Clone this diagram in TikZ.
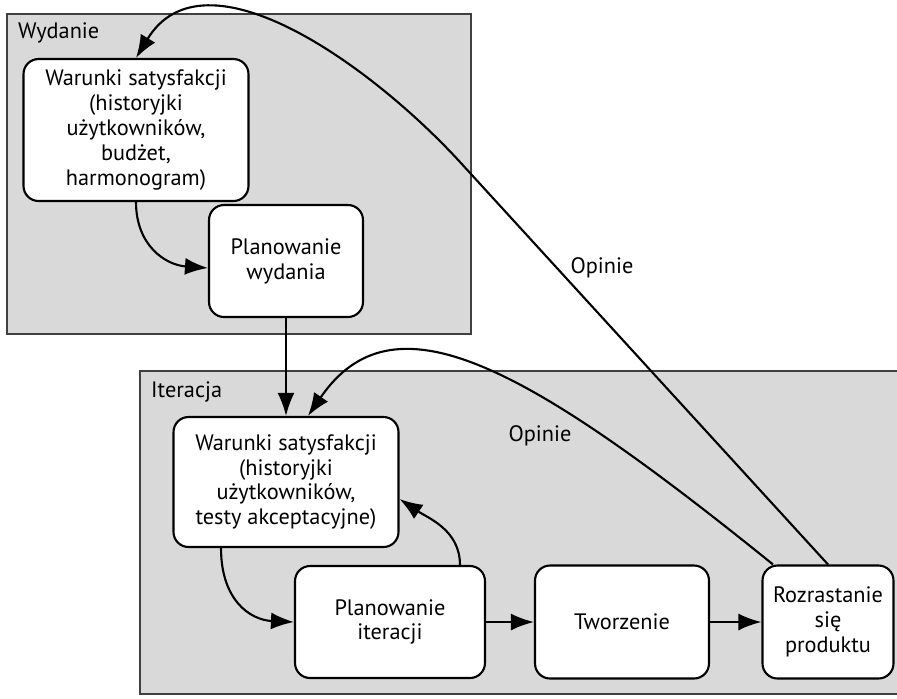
\documentclass[tikz,border=0pt]{standalone}
\usepackage{fontspec}
\setmainfont{PT Sans}
\usetikzlibrary{arrows.meta}

\begin{document}
\begin{tikzpicture}[x=0.02cm,y=-0.02cm,>={Latex[length=4.6mm,width=3.4mm]},
  frame/.style={draw=black!75,line width=0.8pt,fill=black!15},
  box/.style={draw,line width=1.2pt,fill=white,rounded corners=0.3cm,align=center,inner sep=0pt},
  flow/.style={->,line width=1.2pt},
  every node/.append style={font=\fontsize{12.7}{14.1}\selectfont}]
\useasboundingbox (0,0) rectangle (897,698);
\clip (0,0) rectangle (897,698);
% the two frames
\draw[frame] (7,14) rectangle (471,334);
\draw[frame] (140,371) rectangle (920,694);
\node[anchor=west] (wyd) at (12,33) {Wydanie};
\node[anchor=west] (ite) at (145,392) {Iteracja};
% boxes
\node[box,minimum width=4.5cm,minimum height=2.84cm]  (wars) at (136,130)
  {Warunki satysfakcji\\(historyjki\\użytkowników,\\budżet,\\harmonogram)};
\node[box,minimum width=3.08cm,minimum height=2.24cm] (plw)  at (286,261) {Planowanie\\wydania};
\node[box,minimum width=4.5cm,minimum height=2.6cm]   (wari) at (286,482)
  {Warunki satysfakcji\\(historyjki\\użytkowników,\\testy akceptacyjne)};
\node[box,minimum width=3.8cm,minimum height=2.24cm]  (pli)  at (390,622) {Planowanie\\iteracji};
\node[box,minimum width=3.48cm,minimum height=2.26cm] (tw)   at (622,622) {Tworzenie};
\node[box,minimum width=2.62cm,minimum height=2.26cm] (roz)  at (828,622) {Rozrastanie\\się\\produktu};
% arrows
\draw[flow] (wars.south) .. controls (136,245) and (165,265) .. ([yshift=-0.14cm]plw.west);
\draw[flow] (plw.south) -- (wari.north);
\draw[flow] ([xshift=-1.3cm]wari.south) .. controls (221,600) and (250,620) .. (pli.west);
\draw[flow] ([xshift=1.4cm]pli.north) .. controls (460,530) and (428,518) .. ([yshift=-0.34cm]wari.east);
\draw[flow] (pli) -- (tw);
\draw[flow] (tw) -- (roz);
\draw[flow] ([xshift=-1.1cm]roz.north) .. controls (520,360) and (392,293) .. ([xshift=0.44cm]wari.north);
\draw[flow] (roz.north) -- (460,162) .. controls (370,64) and (204,-54) .. (wars.north);
\node (op1) at (602,268) {Opinie};
\node (op2) at (540,436) {Opinie};
\end{tikzpicture}
\end{document}
